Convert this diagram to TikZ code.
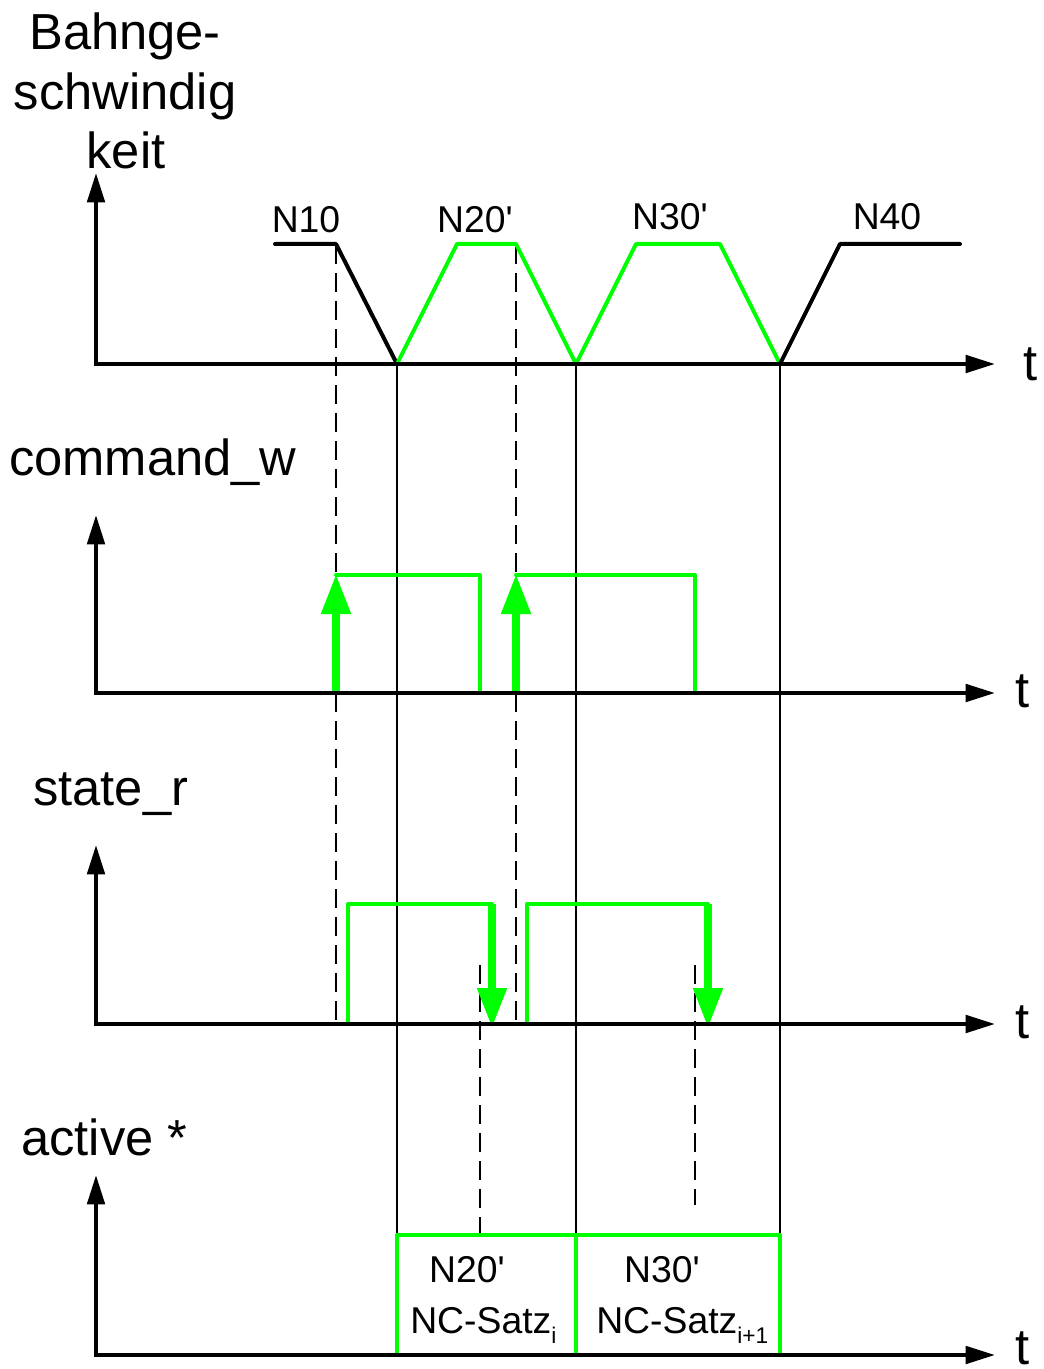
\documentclass[tikz,border=0pt]{standalone}
\usepackage{fontspec}
\setmainfont{Liberation Sans}
\usetikzlibrary{arrows.meta}
\definecolor{grn}{RGB}{0,255,0}
\newcommand{\q}{\textquotesingle}
\begin{document}
\begin{tikzpicture}[x=0.75pt,y=-0.75pt,
  axis/.style={line width=3pt,{Triangle[length=22pt,width=13pt]}-{Triangle[length=22pt,width=13pt]}},
  thin/.style={line width=0.9pt},
  dsh/.style={line width=0.9pt,dash pattern=on 14pt off 7pt},
  curveK/.style={line width=3pt,line join=round,line cap=round},
  curveG/.style={line width=3pt,line join=round,line cap=round,draw=grn},
  garrow/.style={line width=6pt,draw=grn,-{Triangle[length=30pt,width=21pt,fill=grn]}},
  big/.style={font=\fontsize{38}{45}\selectfont,inner sep=0pt},
  mid/.style={font=\fontsize{28}{34}\selectfont,inner sep=0pt}]
\useasboundingbox (0,0) rectangle (1044,1369);

% titles
\node[big,anchor=base] (t1a) at (125,50) {Bahnge-};
\node[big,anchor=base] (t1b) at (125,110) {schwindig};
\node[big,anchor=base] (t1c) at (126,169) {keit};
\node[big,anchor=base west] (t2) at (9,475) {command\_w};
\node[big,anchor=base west] (t3) at (33,805) {state\_r};
\node[big,anchor=base west] (t4) at (21,1155) {active *};

% t labels
\node[big,anchor=base] (ta) at (1031,380) {t};
\node[big,anchor=base] (tb) at (1023,707) {t};
\node[big,anchor=base] (tc) at (1023,1038) {t};
\node[big,anchor=base] (td) at (1023,1364) {t};

% thin vertical lines
\foreach \x [count=\i] in {397,576,780}{
  \coordinate (va\i) at (\x,364);
  \coordinate (vb\i) at (\x,1355);
  \draw[thin] (va\i) -- (vb\i);
}
% dashed lines
\coordinate (d1a) at (336,245); \coordinate (d1b) at (336,1024);
\coordinate (d2a) at (516,245); \coordinate (d2b) at (516,1024);
\coordinate (d3a) at (480,965); \coordinate (d3b) at (480,1235);
\coordinate (d4a) at (695,965); \coordinate (d4b) at (695,1205);
\draw[dsh] (d1a) -- (d1b);
\draw[dsh] (d2a) -- (d2b);
\draw[dsh] (d3a) -- (d3b);
\draw[dsh] (d4a) -- (d4b);

% panel 1 speed profile
\draw[curveK] (275,244) -- (336,244) -- (397,364);
\draw[curveG] (397,364) -- (457,244) -- (516,244) -- (576,364) -- (636,244) -- (720,244) -- (780,364);
\draw[curveK] (780,364) -- (840,244) -- (960,244);
\node[mid,anchor=base] (n10) at (306,233) {N10};
\node[mid,anchor=base] (n20) at (475,233) {N20\q};
\node[mid,anchor=base] (n30) at (670,230) {N30\q};
\node[mid,anchor=base] (n40) at (887,230) {N40};

% panel 2 command_w
\draw[curveG] (336,575) -- (480,575) -- (480,693);
\draw[curveG] (516,575) -- (695,575) -- (695,693);
\draw[garrow] (336,695) -- (336,574);
\draw[garrow] (516,695) -- (516,574);

% panel 3 state_r
\draw[curveG] (348,1024) -- (348,904) -- (492,904);
\draw[curveG] (527,1024) -- (527,904) -- (708,904);
\draw[garrow] (492,904) -- (492,1028);
\draw[garrow] (708,904) -- (708,1028);

% panel 4 active
\draw[curveG] (397,1355) -- (397,1235) -- (576,1235) -- (576,1355);
\draw[curveG] (576,1235) -- (780,1235) -- (780,1355);
\node[mid,anchor=base] (a20) at (467,1282) {N20\q};
\node[mid,anchor=base west] (s1) at (410,1333) {NC-Satz\raisebox{-7.5pt}{\fontsize{17}{17}\selectfont i}};
\node[mid,anchor=base] (a30) at (662,1282) {N30\q};
\node[mid,anchor=base west] (s2) at (596,1333) {NC-Satz\raisebox{-7.5pt}{\fontsize{17}{17}\selectfont i+1}};

% axes
\draw[axis] (96,173) -- (96,364) -- (995,364);
\draw[axis] (96,515) -- (96,693) -- (995,693);
\draw[axis] (96,845) -- (96,1024) -- (995,1024);
\draw[axis] (96,1175) -- (96,1355) -- (995,1355);
\end{tikzpicture}
\end{document}
